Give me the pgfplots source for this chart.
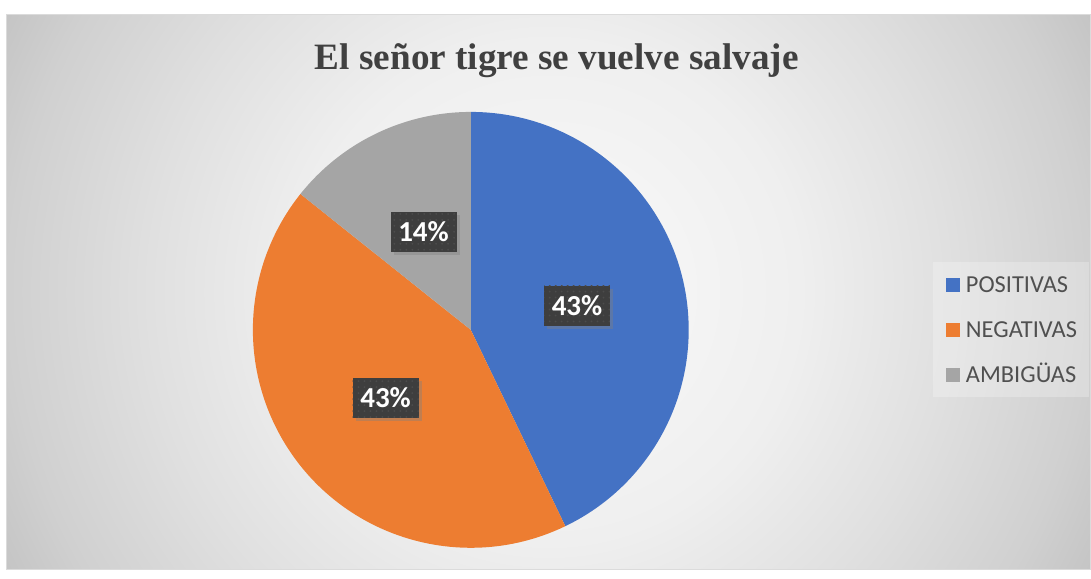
\documentclass[border=0pt]{standalone}
\usepackage{pgfplots}
\pgfplotsset{compat=1.18}
\usepackage{pgfplotstable}
\usepackage{fontspec}
\setmainfont{Liberation Serif}
\newfontfamily\carlito{Carlito}
\usetikzlibrary{shadows,patterns}

\definecolor{pieblue}{HTML}{4472C4}
\definecolor{pieorange}{HTML}{ED7D31}
\definecolor{piegray}{HTML}{A5A5A5}
\definecolor{lblbox}{HTML}{3E3E3E}
\definecolor{lbldots}{HTML}{4C4C4C}
\definecolor{titlegray}{HTML}{404040}
\definecolor{legtext}{HTML}{505050}
\definecolor{bgA}{HTML}{FAFAFA}
\definecolor{bgB}{HTML}{EFEFEF}
\definecolor{bgC}{HTML}{E0E0E0}
\definecolor{bgD}{HTML}{D0D0D0}
\definecolor{bgE}{HTML}{C3C3C3}

% background: circular gradient from the middle of the chart area
% (25bp = edge of the shaded circle)
\pgfdeclareradialshading{bgshade}{\pgfpoint{0bp}{0bp}}{%
  color(0bp)=(bgA); color(9.8bp)=(bgB); color(15.6bp)=(bgC);
  color(21.1bp)=(bgD); color(24.2bp)=(bgE); color(50bp)=(bgE)}

\pgfplotstableread{
label value
POSITIVAS 3
NEGATIVAS 3
AMBIGÜAS 1
}\piedata

% one wedge, angles worked out from the table below
\newcommand\pieslice[2]{%
  \fill[#2] (axis cs:471,240) -- ++({\csname pieA#1\endcsname}:109bp)
    arc[start angle=\csname pieA#1\endcsname, end angle=\csname pieB#1\endcsname, radius=109bp] -- cycle;}
\newcommand\pielabel[1]{%
  \node[lbl] at ([shift={({\csname pieM#1\endcsname}:54.5bp)}]axis cs:471,240) {\csname pieP#1\endcsname\%};}
\newcommand\legitem[3]{%
  \fill[#2] (axis cs:946,#3-7) rectangle (axis cs:960,#3+7);
  \node[anchor=base west, inner sep=0pt, text=legtext, font=\carlito\fontsize{12.2bp}{14bp}\selectfont]
    at (axis cs:966,#3-7.5) {#1};}

\begin{document}
\begin{tikzpicture}[
  lbl/.style={fill=lblbox, text=white, minimum width=33bp, minimum height=20bp, inner sep=0pt,
    font=\carlito\bfseries\fontsize{14.5bp}{17bp}\selectfont,
    postaction={pattern=dots, pattern color=lbldots},
    drop shadow={shadow xshift=1.5bp, shadow yshift=-1.5bp, opacity=0.4}}]
\pgfplotstablegetrowsof{\piedata}
\pgfmathtruncatemacro\nrows{\pgfplotsretval-1}
\gdef\pietotal{0}
\foreach \i in {0,...,\nrows}{%
  \pgfplotstablegetelem{\i}{value}\of\piedata
  \pgfmathsetmacro\tmp{\pietotal+\pgfplotsretval}%
  \xdef\pietotal{\tmp}}
\gdef\piestart{90}
\foreach \i in {0,...,\nrows}{%
  \pgfplotstablegetelem{\i}{value}\of\piedata
  \let\v\pgfplotsretval
  \pgfmathsetmacro\sweep{360*\v/\pietotal}%
  \pgfmathsetmacro\pieend{\piestart-\sweep}%
  \pgfmathsetmacro\piemid{\piestart-\sweep/2}%
  \pgfmathtruncatemacro\piepct{round(100*\v/\pietotal)}%
  \expandafter\xdef\csname pieA\i\endcsname{\piestart}%
  \expandafter\xdef\csname pieB\i\endcsname{\pieend}%
  \expandafter\xdef\csname pieM\i\endcsname{\piemid}%
  \expandafter\xdef\csname pieP\i\endcsname{\piepct}%
  \xdef\piestart{\pieend}}
\begin{axis}[
  x=0.5bp, y=0.5bp,
  xmin=0, xmax=1091, ymin=0, ymax=570,
  scale only axis, hide axis, clip=false]
  \fill[white] (axis cs:0,0) rectangle (axis cs:1091,570);
  \begin{scope}
    \clip (axis cs:7,0) rectangle (axis cs:1091,555);
    \shade[shading=bgshade] (axis cs:549,278) circle[radius=320bp];
  \end{scope}
  \draw[white!86!black, line width=0.5bp] (axis cs:7,0) rectangle (axis cs:1091,555);

  \node[anchor=base, text=titlegray, font=\bfseries\fontsize{18.6bp}{22bp}\selectfont]
    at (axis cs:557,500) {El señor tigre se vuelve salvaje};

  \pieslice{0}{pieblue}
  \pieslice{1}{pieorange}
  \pieslice{2}{piegray}
  \pielabel{0}
  \pielabel{1}
  \pielabel{2}

  \fill[white, opacity=0.25] (axis cs:933,173) rectangle (axis cs:1089,308);
  \legitem{POSITIVAS}{pieblue}{285}
  \legitem{NEGATIVAS}{pieorange}{240}
  \legitem{AMBIGÜAS}{piegray}{195}
\end{axis}
\end{tikzpicture}
\end{document}
